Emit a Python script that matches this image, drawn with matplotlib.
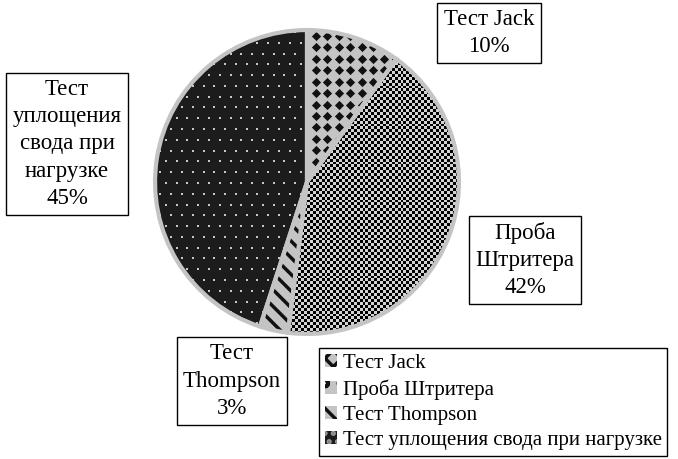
import numpy as np
import matplotlib.pyplot as plt
import matplotlib.patches as mpatches

plt.rcParams['font.family'] = ['Liberation Serif', 'DejaVu Serif']

labels = ['Тест Jack', 'Проба Штритера', 'Тест Thompson', 'Тест уплощения свода при нагрузке']
box_labels = ['Тест Jack\n10%', 'Проба\nШтритера\n42%', 'Тест\nThompson\n3%',
              'Тест\nуплощения\nсвода при\nнагрузке\n45%']
values = [10, 42, 3, 45]

W, H = 678, 459
fig = plt.figure(figsize=(W / 100, H / 100), dpi=100)
# pie axes: centre ~ (307, 182) px, radius ~155 px
R = 155
cx, cy = 307, 182
ax = fig.add_axes([(cx - R) / W, (H - cy - R) / H, 2 * R / W, 2 * R / H])

gray = '#c4c4c4'
base_colors = [gray, gray, gray, '#1c1c1c']
wedges, _ = ax.pie(values, startangle=90, counterclock=False, colors=base_colors,
                   wedgeprops=dict(linewidth=0))

# textures clipped to wedges
px = 1.0 / R  # one pixel in data units

# Jack: black diamonds on gray
sp = 11.7 * px
g = np.arange(-1, 1 + sp, sp)
gx, gy = np.meshgrid(g, g)
ax.scatter(gx.ravel(), gy.ravel(), marker='D', s=22, color='#111111', linewidths=0,
           clip_path=wedges[0], zorder=3)

# Штритера: fine checker
n = int(2 / (3 * px)) + 1
chk = (np.add.outer(np.arange(n), np.arange(n)) % 2).astype(float)
im = ax.imshow(chk, cmap='gray', vmin=0.05, vmax=1.2, extent=(-1, 1, -1, 1),
               interpolation='nearest', zorder=2)
im.set_clip_path(wedges[1])

# Thompson: diagonal stripes
plt.rcParams['hatch.linewidth'] = 2.5
ax.add_patch(mpatches.Wedge((0, 0), 1, wedges[2].theta1, wedges[2].theta2,
                            facecolor='none', edgecolor='#111111', hatch='\\\\', linewidth=0,
                            zorder=3))

# уплощения: light dots on black
sp2 = 11 * px
g2 = np.arange(-1, 1 + sp2, sp2)
dx, dy = np.meshgrid(g2, g2)
dx = dx + (np.arange(len(g2))[:, None] % 2) * sp2 / 2
ax.scatter(dx.ravel(), dy.ravel(), marker='s', s=3, color='#c8c8c8', linewidths=0,
           clip_path=wedges[3], zorder=3)

# outlines
for w in wedges:
    ax.add_patch(mpatches.Wedge((0, 0), 1, w.theta1, w.theta2, facecolor='none',
                                edgecolor=gray, linewidth=3, zorder=4))

ax.set_xlim(-1.02, 1.02)
ax.set_ylim(-1.02, 1.02)
ax.set_aspect('equal')
ax.axis('off')

# data label boxes (figure pixel positions)
label_pos = [(489, 33), (525, 260), (232, 381), (67, 144)]
for txt, (x, y) in zip(box_labels, label_pos):
    fig.text(x / W, 1 - y / H, txt, ha='center', va='center', fontsize=16.5,
             linespacing=1.38,
             bbox=dict(boxstyle='square,pad=0.28', facecolor='white', edgecolor='black',
                       linewidth=1))

# legend
handles = [
    mpatches.Patch(facecolor=gray, edgecolor='#111111', hatch='xx', linewidth=0),
    mpatches.Patch(facecolor=gray, edgecolor='#111111', hatch='o', linewidth=0),
    mpatches.Patch(facecolor=gray, edgecolor='#111111', hatch='\\\\', linewidth=0),
    mpatches.Patch(facecolor='#1c1c1c', edgecolor='#999999', hatch='..', linewidth=0),
]
leg = fig.legend(handles, labels, loc='upper left', bbox_to_anchor=(319 / W, 1 - 348 / H),
                 fontsize=15, frameon=True, fancybox=False, framealpha=1,
                 edgecolor='black', handlelength=0.6, handleheight=0.6,
                 handletextpad=0.25, labelspacing=0.3, borderpad=0.28, borderaxespad=0)
leg.get_frame().set_linewidth(1)

fig.savefig('out.png', dpi=100)
